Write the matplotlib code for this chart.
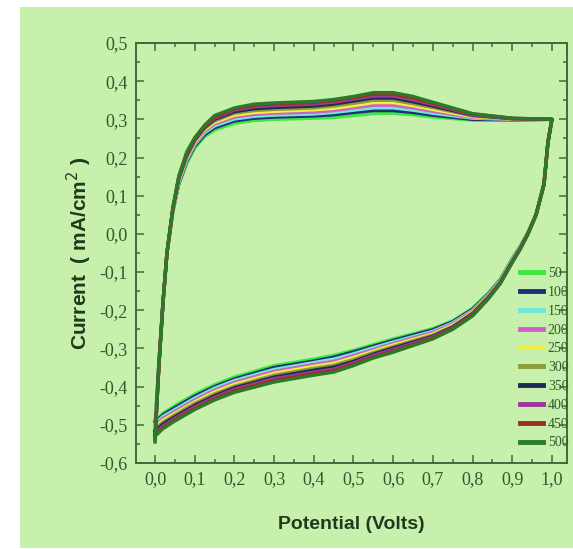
import matplotlib
matplotlib.use("Agg")
import matplotlib.pyplot as plt
from matplotlib.patches import Rectangle
from matplotlib.ticker import MultipleLocator

# scan rates (mV/s) shown in the legend
scan_rates = ['50', '100', '150', '200', '250', '300', '350', '400', '450', '500']
colors = ['#3ee83e', '#1c2f7a', '#6fe8d8', '#d060c8', '#f2f040',
          '#8f9a3a', '#1c2a55', '#9a3a9a', '#a0301e', '#2a7a2a']

# anodic (forward) sweep potentials, Volts
fwd_v = [0.0, 0.005, 0.01, 0.02, 0.03, 0.045, 0.06, 0.08, 0.1, 0.125, 0.15, 0.2,
         0.25, 0.3, 0.4, 0.45, 0.5, 0.55, 0.6, 0.65, 0.7, 0.8, 0.9, 1.0]
# cathodic (reverse) sweep potentials, Volts
rev_v = [1.0, 0.99, 0.98, 0.96, 0.94, 0.92, 0.9, 0.87, 0.84, 0.8, 0.75, 0.7,
         0.6, 0.55, 0.5, 0.45, 0.4, 0.3, 0.2, 0.15, 0.1, 0.05, 0.02, 0.0]

# current density, mA/cm2, forward sweep
fwd_50 = [-0.50, -0.42, -0.33, -0.18, -0.05, 0.06, 0.13, 0.185, 0.225, 0.255, 0.272, 0.290, 0.297, 0.300, 0.303, 0.305, 0.310, 0.315, 0.316, 0.312, 0.306, 0.298, 0.298, 0.300]
fwd_100 = [-0.505, -0.42, -0.33, -0.18, -0.05, 0.06, 0.132, 0.19, 0.23, 0.26, 0.278, 0.296, 0.303, 0.306, 0.309, 0.312, 0.318, 0.323, 0.323, 0.318, 0.311, 0.300, 0.299, 0.300]
fwd_150 = [-0.51, -0.425, -0.335, -0.18, -0.05, 0.062, 0.135, 0.193, 0.234, 0.265, 0.283, 0.301, 0.308, 0.311, 0.314, 0.318, 0.324, 0.330, 0.330, 0.324, 0.316, 0.303, 0.300, 0.300]
fwd_200 = [-0.515, -0.425, -0.335, -0.18, -0.05, 0.063, 0.138, 0.197, 0.237, 0.269, 0.288, 0.306, 0.313, 0.316, 0.319, 0.323, 0.330, 0.337, 0.337, 0.330, 0.321, 0.305, 0.300, 0.300]
fwd_250 = [-0.52, -0.43, -0.335, -0.18, -0.05, 0.064, 0.14, 0.2, 0.24, 0.273, 0.292, 0.311, 0.318, 0.321, 0.325, 0.329, 0.336, 0.344, 0.344, 0.336, 0.326, 0.307, 0.301, 0.300]
fwd_300 = [-0.525, -0.43, -0.34, -0.18, -0.05, 0.065, 0.143, 0.203, 0.243, 0.276, 0.296, 0.316, 0.323, 0.326, 0.330, 0.335, 0.342, 0.350, 0.350, 0.341, 0.331, 0.309, 0.301, 0.300]
fwd_350 = [-0.53, -0.435, -0.34, -0.18, -0.05, 0.066, 0.146, 0.206, 0.246, 0.279, 0.300, 0.320, 0.328, 0.331, 0.335, 0.340, 0.348, 0.356, 0.356, 0.346, 0.335, 0.311, 0.302, 0.300]
fwd_400 = [-0.535, -0.435, -0.34, -0.18, -0.05, 0.067, 0.148, 0.209, 0.248, 0.281, 0.303, 0.324, 0.333, 0.336, 0.340, 0.345, 0.353, 0.361, 0.361, 0.351, 0.339, 0.312, 0.302, 0.300]
fwd_450 = [-0.54, -0.44, -0.34, -0.18, -0.05, 0.068, 0.15, 0.212, 0.25, 0.283, 0.306, 0.327, 0.337, 0.340, 0.344, 0.349, 0.357, 0.366, 0.366, 0.356, 0.342, 0.314, 0.303, 0.300]
fwd_500 = [-0.545, -0.44, -0.34, -0.18, -0.05, 0.07, 0.152, 0.215, 0.252, 0.285, 0.31, 0.33, 0.34, 0.343, 0.347, 0.352, 0.36, 0.37, 0.37, 0.36, 0.345, 0.315, 0.303, 0.300]

# current density, mA/cm2, reverse sweep
rev_50 = [0.30, 0.24, 0.13, 0.05, 0.005, -0.033, -0.065, -0.118, -0.155, -0.195, -0.228, -0.248, -0.275, -0.29, -0.305, -0.318, -0.328, -0.345, -0.375, -0.395, -0.42, -0.45, -0.47, -0.49]
rev_100 = [0.30, 0.24, 0.13, 0.05, 0.004, -0.034, -0.066, -0.12, -0.157, -0.197, -0.23, -0.251, -0.279, -0.294, -0.309, -0.323, -0.333, -0.35, -0.38, -0.40, -0.425, -0.455, -0.474, -0.493]
rev_150 = [0.30, 0.24, 0.13, 0.05, 0.004, -0.035, -0.067, -0.121, -0.159, -0.2, -0.233, -0.255, -0.283, -0.298, -0.314, -0.328, -0.337, -0.355, -0.384, -0.404, -0.43, -0.46, -0.478, -0.497]
rev_200 = [0.30, 0.24, 0.13, 0.05, 0.003, -0.036, -0.069, -0.123, -0.161, -0.202, -0.236, -0.258, -0.287, -0.303, -0.319, -0.334, -0.342, -0.36, -0.389, -0.409, -0.435, -0.465, -0.483, -0.502]
rev_250 = [0.30, 0.24, 0.13, 0.05, 0.003, -0.037, -0.07, -0.124, -0.163, -0.205, -0.239, -0.262, -0.291, -0.307, -0.324, -0.339, -0.347, -0.365, -0.394, -0.414, -0.44, -0.47, -0.488, -0.507]
rev_300 = [0.30, 0.24, 0.13, 0.05, 0.002, -0.038, -0.071, -0.125, -0.164, -0.207, -0.242, -0.265, -0.295, -0.311, -0.329, -0.344, -0.352, -0.37, -0.399, -0.419, -0.444, -0.474, -0.493, -0.512]
rev_350 = [0.30, 0.24, 0.13, 0.05, 0.002, -0.038, -0.072, -0.127, -0.166, -0.209, -0.244, -0.268, -0.299, -0.315, -0.334, -0.349, -0.357, -0.375, -0.403, -0.424, -0.449, -0.479, -0.498, -0.517]
rev_400 = [0.30, 0.24, 0.13, 0.05, 0.001, -0.039, -0.073, -0.128, -0.167, -0.211, -0.246, -0.27, -0.303, -0.318, -0.338, -0.354, -0.362, -0.379, -0.407, -0.428, -0.453, -0.483, -0.503, -0.522]
rev_450 = [0.30, 0.24, 0.13, 0.05, 0.001, -0.04, -0.074, -0.129, -0.169, -0.213, -0.248, -0.273, -0.307, -0.322, -0.342, -0.358, -0.366, -0.384, -0.411, -0.432, -0.457, -0.487, -0.507, -0.526]
rev_500 = [0.30, 0.24, 0.13, 0.05, 0.0, -0.04, -0.075, -0.13, -0.17, -0.215, -0.25, -0.275, -0.31, -0.325, -0.345, -0.362, -0.37, -0.388, -0.415, -0.435, -0.46, -0.49, -0.51, -0.53]

fwd_curves = [fwd_50, fwd_100, fwd_150, fwd_200, fwd_250, fwd_300, fwd_350, fwd_400, fwd_450, fwd_500]
rev_curves = [rev_50, rev_100, rev_150, rev_200, rev_250, rev_300, rev_350, rev_400, rev_450, rev_500]

x_ticks = [0.0, 0.1, 0.2, 0.3, 0.4, 0.5, 0.6, 0.7, 0.8, 0.9, 1.0]
x_ticklabels = ['0,0', '0,1', '0,2', '0,3', '0,4', '0,5', '0,6', '0,7', '0,8', '0,9', '1,0']
y_ticks = [-0.6, -0.5, -0.4, -0.3, -0.2, -0.1, 0.0, 0.1, 0.2, 0.3, 0.4, 0.5]
y_ticklabels = ['-0,6', '-0,5', '-0,4', '-0,3', '-0,2', '-0,1', '0,0', '0,1', '0,2', '0,3', '0,4', '0,5']

BG = '#c6f0ab'
FRAME = '#3d6b3d'
TEXT = '#2f5a2f'

fig = plt.figure(figsize=(5.73, 5.49), dpi=100, facecolor='white')
# green panel behind the plot (white margin top/left like the scan)
panel = Rectangle((20 / 573, 1 / 549), 1 - 20 / 573, 541 / 549,
                  transform=fig.transFigure, facecolor=BG,
                  edgecolor='none', zorder=-10)
fig.patches.append(panel)

ax = fig.add_axes([136 / 573, 1 - 463 / 549, 431 / 573, 420 / 549])
ax.set_zorder(1)
ax.set_facecolor(BG)

for rate, col, fwd, rev in zip(scan_rates, colors, fwd_curves, rev_curves):
    ax.plot(fwd_v + rev_v, fwd + rev, color=col, lw=2.4, label=rate,
            solid_joinstyle='round')

ax.set_xlim(-0.048, 1.038)
ax.set_ylim(-0.6, 0.5)
ax.set_xticks(x_ticks)
ax.set_xticklabels(x_ticklabels)
ax.set_yticks(y_ticks)
ax.set_yticklabels(y_ticklabels)
ax.xaxis.set_minor_locator(MultipleLocator(0.05))
ax.yaxis.set_minor_locator(MultipleLocator(0.05))

ax.tick_params(which='both', direction='in', top=True, right=True,
               color=FRAME, width=1.1)
ax.tick_params(which='major', length=6, pad=6, labelsize=13,
               labelcolor=TEXT, labelfontfamily='Liberation Serif')
ax.tick_params(which='minor', length=3)
for sp in ax.spines.values():
    sp.set_color(FRAME)
    sp.set_linewidth(1.4)

ax.set_xlabel('Potential (Volts)', fontsize=14, fontweight='bold',
              family='Liberation Sans', color='#1f3a1f', labelpad=20)
ax.set_ylabel('Current  ( mA/cm$^2$ )', fontsize=15, fontweight='bold',
              family='Liberation Sans', color='#1f3a1f', labelpad=4)

leg = ax.legend(loc='upper left', bbox_to_anchor=(520 / 573, 1 - 267 / 549),
                bbox_transform=fig.transFigure, frameon=False,
                prop={'family': 'Liberation Serif', 'size': 10},
                handlelength=1.65, handletextpad=0.35, labelspacing=0.42,
                borderpad=0, borderaxespad=0)
for h in leg.get_lines():
    h.set_linewidth(3.5)
for t in leg.get_texts():
    t.set_color(TEXT)

fig.savefig('out.png', dpi=100, facecolor='white')
